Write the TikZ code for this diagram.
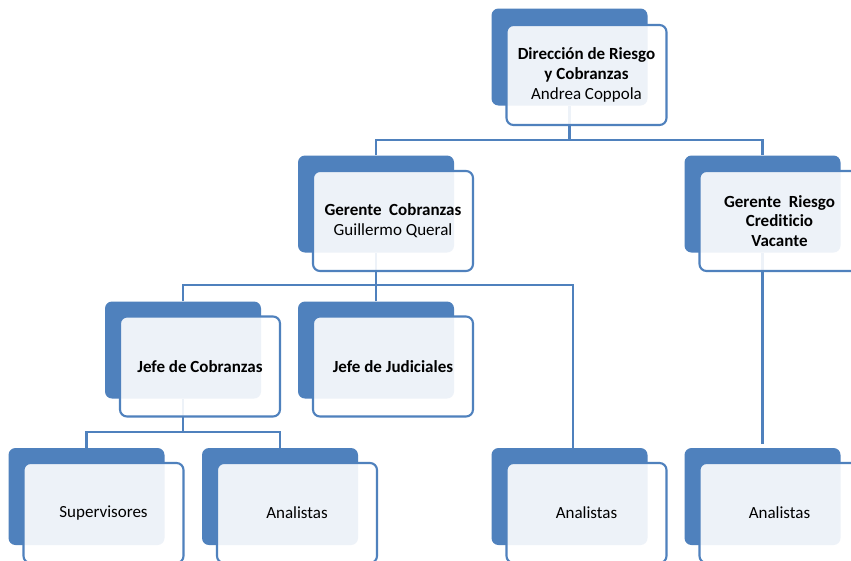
\documentclass[tikz,border=0pt]{standalone}
\usepackage{fontspec}
\setmainfont{Carlito}[Ligatures={NoCommon}]
\definecolor{acc}{HTML}{4F81BD}
\tikzset{
  back/.style={rectangle, rounded corners=7pt, fill=acc, draw=none, minimum width=156pt, minimum height=97pt, inner sep=0pt},
  front/.style={rectangle, rounded corners=7pt, fill=white, fill opacity=0.9, text opacity=1, draw=acc, draw opacity=1, line width=2.1pt, minimum width=160pt, minimum height=100pt, inner sep=0pt, align=center, font=\fontsize{17pt}{19.8pt}\selectfont, text=black},
  conn/.style={draw=acc, line width=2.7pt}
}
\begin{document}
\begin{tikzpicture}[x=1pt,y=-1pt]
\clip (0,0) rectangle (851,560);
\fill[white] (0,0) rectangle (851,560);
% back rectangles
\node[back] (topd) at (569.5,57) {};
\node[back] (gcd) at (376,204) {};
\node[back] (grd) at (762.5,204) {};
\node[back] (jcd) at (183,350) {};
\node[back] (jjd) at (376,350) {};
\node[back] (supd) at (86.5,496.5) {};
\node[back] (an1d) at (280,496.5) {};
\node[back] (an2d) at (569.5,496.5) {};
\node[back] (an3d) at (762.5,496.5) {};
% connectors
\coordinate (b1) at (569.5,140);
\coordinate (b2) at (376,285);
\coordinate (b2r) at (573,285);
\coordinate (b3) at (183,432);
\draw[conn] (topd.south) -- (b1);
\draw[conn] (gcd.north) |- (b1) -| (grd.north);
\draw[conn] (gcd.south) -- (b2);
\draw[conn] (jjd.north) -- (b2);
\draw[conn] (jcd.north) |- (b2r) -- (b2r |- an2d.north);
\draw[conn, shorten >=4pt] (grd.south) -- (an3d.north);
\draw[conn] (jcd.south) -- (b3);
\draw[conn] (supd.north) |- (b3) -| (an1d.north);
% front boxes
\node[front] (top) at (586.5,75) {\textbf{Dirección de Riesgo}\\\textbf{y Cobranzas}\\Andrea Coppola};
\node[front] (gc) at (393,221) {\textbf{Gerente\ \ Cobranzas}\\Guillermo Queral};
\node[front] (gr) at (779.5,221) {\textbf{Gerente\ \ Riesgo}\\\textbf{Crediticio}\\\textbf{Vacante}};
\node[front] (jc) at (200,366.5) {\textbf{Jefe de Cobranzas}};
\node[front] (jj) at (393,366.5) {\textbf{Jefe de Judiciales}};
\node[front] (sup) at (103.5,513) {Supervisores};
\node[front] (an1) at (297,513) {Analistas};
\node[front] (an2) at (586.5,513) {Analistas};
\node[front] (an3) at (779.5,513) {Analistas};
\end{tikzpicture}
\end{document}
